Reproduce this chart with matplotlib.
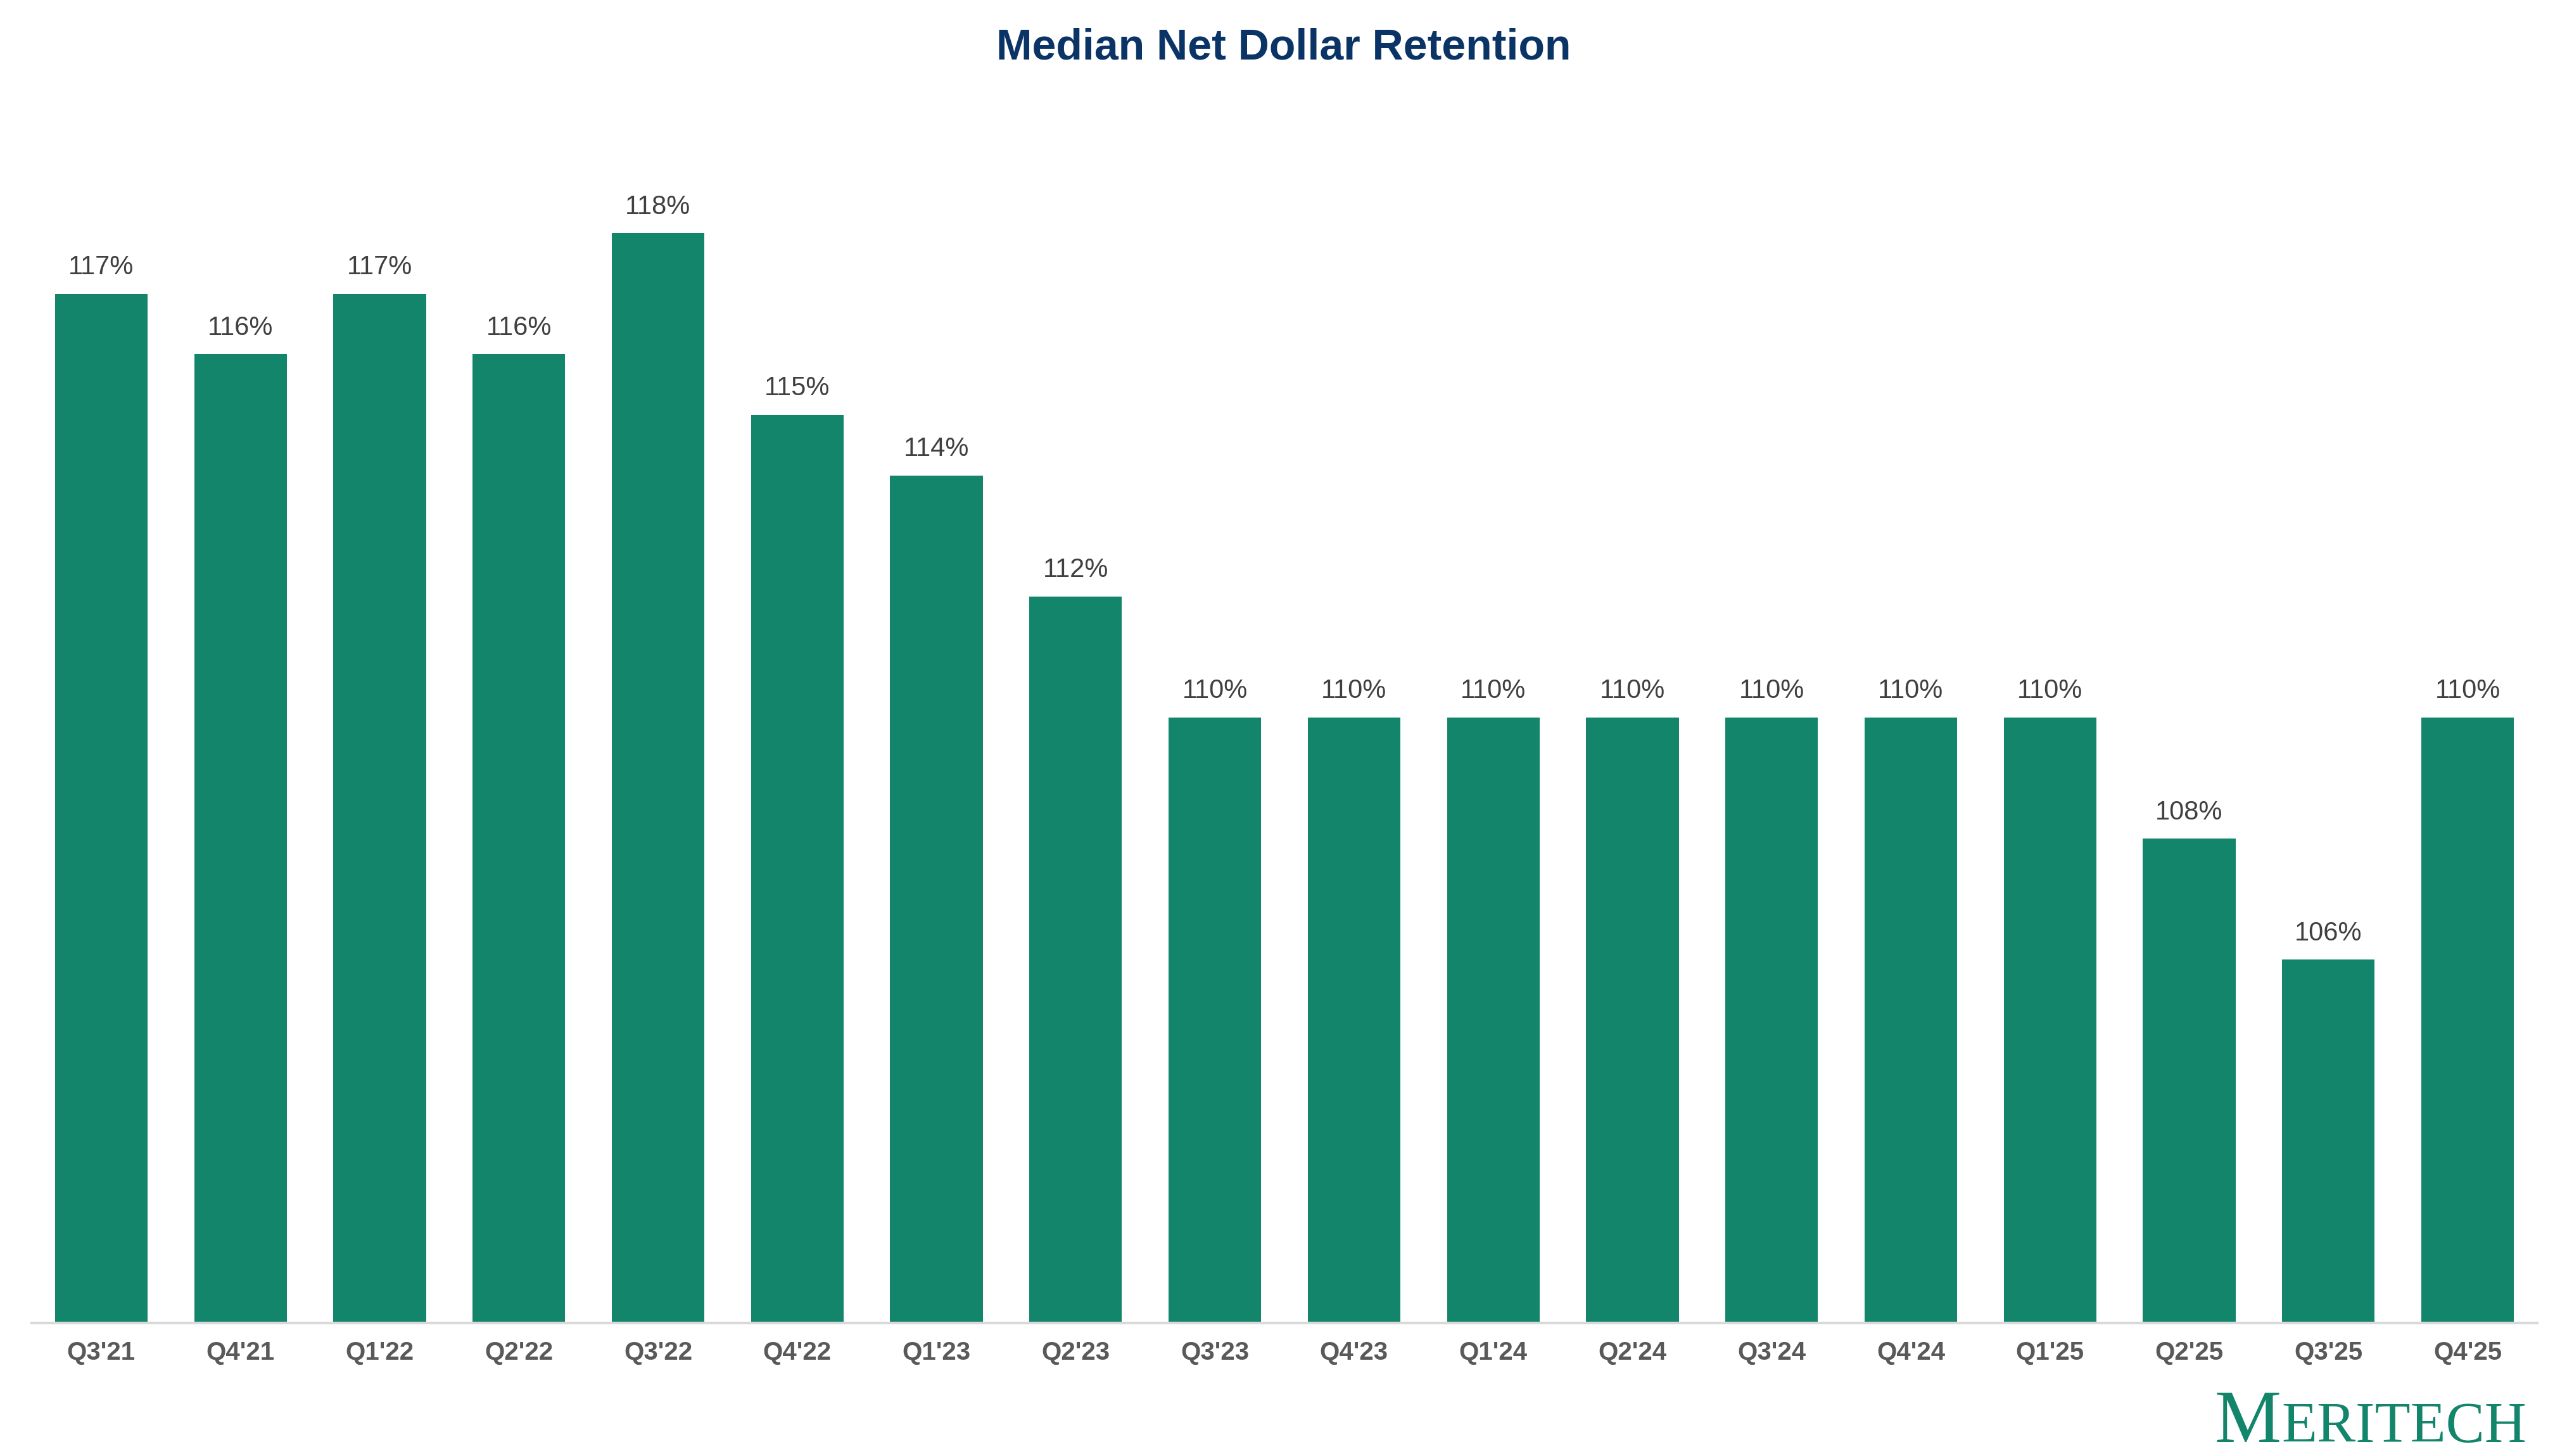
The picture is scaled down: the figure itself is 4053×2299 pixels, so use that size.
import matplotlib
matplotlib.use("Agg")
import matplotlib.pyplot as plt

quarters = ["Q3'21", "Q4'21", "Q1'22", "Q2'22", "Q3'22", "Q4'22", "Q1'23", "Q2'23", "Q3'23",
            "Q4'23", "Q1'24", "Q2'24", "Q3'24", "Q4'24", "Q1'25", "Q2'25", "Q3'25", "Q4'25"]
ndr = [117, 116, 117, 116, 118, 115, 114, 112, 110, 110, 110, 110, 110, 110, 110, 108, 106, 110]

GREEN = "#13856b"; NAVY = "#0b3466"
plt.rcParams["font.family"] = ["Liberation Sans", "DejaVu Sans"]

W, H, DPI = 4053, 2299, 100
fig = plt.figure(figsize=(W/DPI, H/DPI), dpi=DPI)
ax = fig.add_axes([50/W, 210/H, 3956/W, 1912/H])

x = range(len(quarters))
bars = ax.bar(x, ndr, width=0.665, bottom=0, color=GREEN, zorder=2)
ax.set_xlim(-0.5, len(quarters) - 0.5); ax.set_ylim(100, 120)
for b, v in zip(bars, ndr):
    ax.annotate(f"{v}%", (b.get_x() + b.get_width()/2, v), xytext=(0, 22), textcoords="offset points",
                ha="center", va="baseline", fontsize=30, color="#404040")

ax.set_xticks(list(x)); ax.set_xticklabels(quarters, fontsize=29, fontweight="bold", color="#595959")
ax.tick_params(axis="x", length=0, pad=20); ax.set_yticks([])
for s in ["top", "right", "left"]: ax.spines[s].set_visible(False)
ax.spines["bottom"].set_color("#d9d9d9"); ax.spines["bottom"].set_linewidth(3); ax.spines["bottom"].set_zorder(3)

fig.text(0.5, 1 - 76/H, "Median Net Dollar Retention", ha="center", va="center",
         fontsize=49, fontweight="bold", color=NAVY)

# logo in small caps
rest = fig.text(3989/W, 22/H, "ERITECH", ha="right", va="baseline", fontsize=66,
                family="Liberation Serif", color=GREEN)
fig.canvas.draw()
x0 = rest.get_window_extent().x0
fig.text(x0/W, 22/H, "M", ha="right", va="baseline", fontsize=85, family="Liberation Serif", color=GREEN)

fig.savefig("out.png", dpi=DPI)
plt.close(fig)
